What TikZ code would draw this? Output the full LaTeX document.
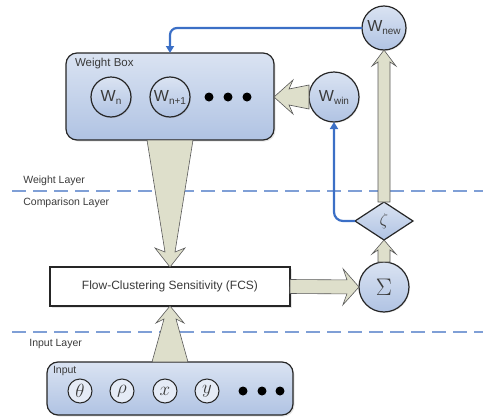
\RequirePackage{fix-cm}
\documentclass[tikz,border=0pt]{standalone}
\usepackage{fontspec}
\setmainfont{Liberation Sans}
\usetikzlibrary{calc,shapes.geometric,arrows.meta,shadows}
\definecolor{boxtop}{HTML}{DAE3F2}
\definecolor{boxbot}{HTML}{B0C3E3}
\definecolor{arrowfill}{HTML}{DEDFCB}
\definecolor{linkblue}{HTML}{3B6FC6}
\definecolor{layerblue}{HTML}{7F9FD6}
\definecolor{labgray}{HTML}{3A3A3A}
% W with a subscript
\def\wlab#1{{\fontsize{16}{16}\selectfont W}\raisebox{-3pt}{\fontsize{10}{10}\selectfont #1}}
% block arrow: (from)(to)(start half width:end half width:head half width:head length)
\def\fatarrow(#1)(#2)(#3:#4:#5:#6){%
  \path let \p1=($(#2)-(#1)$) in \pgfextra{\pgfmathsetmacro\faang{atan2(\y1,\x1)}\pgfmathsetmacro\falen{veclen(\x1,\y1)}\global\let\faang\faang\global\let\falen\falen};
  \begin{scope}[shift={(#1)},rotate=\faang]
    \draw[fatarrow] (0,#3) -- (\falen-#6,#4) -- (\falen-#6-4,#5) -- (\falen,0) -- (\falen-#6-4,-#5) -- (\falen-#6,-#4) -- (0,-#3) -- cycle;
  \end{scope}}

\begin{document}
\begin{tikzpicture}[x=1pt,y=-1pt,
    every node/.style={outer sep=0pt, text=labgray},
    panel/.style={draw=black!85, line width=1.2pt, rounded corners=11pt, top color=boxtop, bottom color=boxbot, drop shadow={opacity=0.2, shadow xshift=1.5pt, shadow yshift=-1.5pt}},
    wcirc/.style={circle, draw=black!85, line width=1.2pt, top color=boxtop, bottom color=boxbot, inner sep=0pt, drop shadow={opacity=0.15, shadow xshift=1pt, shadow yshift=-1pt}},
    incirc/.style={circle, draw=black!85, line width=1pt, fill=boxtop!70, minimum size=24pt, inner sep=0pt, font=\fontsize{19}{19}\selectfont},
    blob/.style={circle, fill=black, minimum size=9pt, inner sep=0pt},
    fatarrow/.style={draw=black!65, line width=0.6pt, fill=arrowfill, line join=miter},
    blueline/.style={draw=linkblue, line width=2.2pt, -{Triangle[width=8pt,length=7pt]}},
    layerline/.style={draw=layerblue, line width=1.2pt, dash pattern=on 14pt off 7pt},
    layerlab/.style={anchor=west, font=\fontsize{10.5}{11}\selectfont},
    boxlab/.style={anchor=north west, inner sep=0pt, font=\fontsize{11.5}{12}\selectfont}]
  \useasboundingbox (0,0) rectangle (483,418);

  %%%%% layers %%%%%
  \draw[layerline] (12,191) -- (483,191);
  \draw[layerline] (12,332) -- (483,332);
  \node[layerlab] (wlayer) at (20,181) {Weight Layer};
  \node[layerlab] (clayer) at (20,203) {Comparison Layer};
  \node[layerlab] (ilayer) at (26,344) {Input Layer};

  %%%%% weight box %%%%%
  \node[panel, minimum width=208pt, minimum height=87pt] (wbox) at (170,96.5) {};
  \node[boxlab] (wboxlab) at ($(wbox.north west)+(9,5)$) {Weight Box};
  \node[wcirc, minimum size=40pt] (wn) at (111,97) {\wlab{n}};
  \node[wcirc, minimum size=40pt] (wn1) at (170,97) {\wlab{n+1}};
  \node[blob] (wd1) at (209,97) {};
  \node[blob] (wd2) at (228,97) {};
  \node[blob] (wd3) at (247,97) {};

  \node[wcirc, minimum size=50pt] (wwin) at (334,97) {\wlab{win}};
  \node[wcirc, minimum size=44pt] (wnew) at (384,28) {\wlab{new}};

  %%%%% comparison %%%%%
  \node[diamond, draw=black!85, line width=1.2pt, top color=boxtop, bottom color=boxbot, aspect=1.5, minimum width=58pt, minimum height=38pt, inner sep=0pt] (zeta) at (384,221) {\fontsize{17}{17}\selectfont$\zeta$};
  \node[wcirc, minimum size=50pt] (sigma) at (384,287) {\fontsize{24}{24}\selectfont$\Sigma$};
  \node[draw=black!85, line width=1.2pt, fill=white, minimum width=240pt, minimum height=39pt, font=\fontsize{12}{12}\selectfont, drop shadow={opacity=0.2, shadow xshift=1.5pt, shadow yshift=-1.5pt}] (fcs) at (170,286.5) {Flow-Clustering Sensitivity (FCS)};

  %%%%% input box %%%%%
  \node[panel, minimum width=246pt, minimum height=53pt] (inbox) at (170,388.5) {};
  \node[boxlab, font=\fontsize{10.5}{11}\selectfont] (inboxlab) at ($(inbox.north west)+(6,4)$) {Input};
  \node[incirc] (theta) at (80,391) {$\theta$};
  \node[incirc] (rho) at (122,391) {$\rho$};
  \node[incirc] (xin) at (165,391) {$x$};
  \node[incirc] (yin) at (207,391) {$y$};
  \node[blob] (id1) at (243,391) {};
  \node[blob] (id2) at (262,391) {};
  \node[blob] (id3) at (280,391) {};

  %%%%% block arrows %%%%%
  \fatarrow(wbox.south)(fcs.north)(23:5:15:15)
  \fatarrow(inbox.north)(fcs.south)(18:6:14:13)
  \fatarrow(fcs.east)(sigma.west)(7:7:18:12)
  \fatarrow(sigma.north)(zeta.south)(6:6:12:10)
  \fatarrow(zeta.north)(wnew.south)(6:6:12:12)
  \fatarrow(wwin.west)(wwin.west -| wbox.east)(12:8:17:15)

  %%%%% feedback links %%%%%
  \draw[blueline, rounded corners=7pt] (wnew.west) -| (wbox.north);
  \draw[blueline, rounded corners=9pt] (zeta.west) -| (wwin.south);
\end{tikzpicture}
\end{document}
